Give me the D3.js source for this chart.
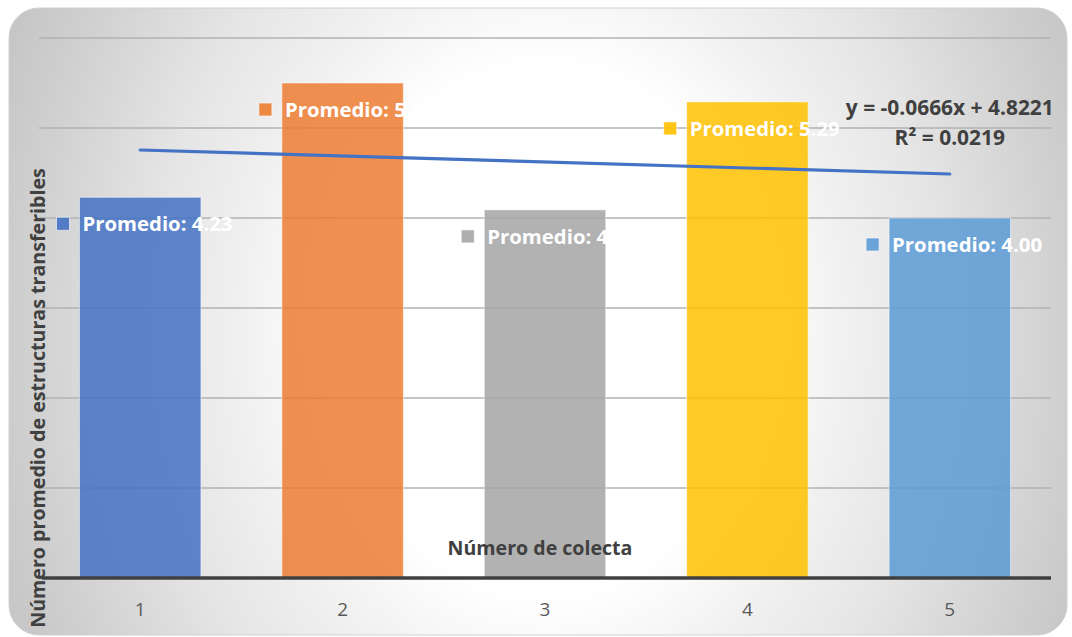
<!DOCTYPE html>
<html><head><meta charset="utf-8">
<script src="https://cdn.jsdelivr.net/npm/d3@7"></script>
<style>html,body{margin:0;padding:0;background:#fff;}svg{display:block;}</style>
</head><body>
<svg id="chart" width="1072" height="637"></svg>
<script>
const categories = ["1", "2", "3", "4", "5"];
const values = [4.23, 5.50, 4.09, 5.29, 4.00];
const labelTexts = ["Promedio: 4.23", "Promedio: 5.50", "Promedio: 4.09", "Promedio: 5.29", "Promedio: 4.00"];
const barColors = ["#4472C4", "#ED7D31", "#A5A5A5", "#FFC000", "#5B9BD5"];
const yTicks = [0, 1, 2, 3, 4, 5, 6];
const trendSlope = -0.0666;
const trendIntercept = 4.8221;
const trendLabels = ["y = -0.0666x + 4.8221", "R² = 0.0219"];
const xTitle = "Número de colecta";
const yTitle = "Número promedio de estructuras transferibles";

const svg = d3.select("#chart");
const font = "'Open Sans', Lato, sans-serif";

// scale a text's font-size so that its rendered width matches a target width
function fit(sel, target) {
  sel.each(function () {
    const fs = parseFloat(this.getAttribute("font-size"));
    const w = this.getComputedTextLength();
    if (w > 0) this.setAttribute("font-size", (fs * target / w).toFixed(2));
  });
}

const defs = svg.append("defs");
const rg = defs.append("radialGradient").attr("id", "bg")
  .attr("gradientUnits", "userSpaceOnUse")
  .attr("cx", 545).attr("cy", 330).attr("r", 588).attr("fx", 545).attr("fy", 330)
  .attr("gradientTransform", "translate(545,330) scale(1,1.25) translate(-545,-330)");
[[0, "#ffffff"], [0.36, "#ffffff"], [0.52, "#f0f0f0"], [0.66, "#e6e6e6"], [0.88, "#d0d0d0"], [1, "#c5c5c5"]]
  .forEach(([o, c]) => rg.append("stop").attr("offset", o).attr("stop-color", c));

svg.append("rect").attr("x", 9).attr("y", 8).attr("width", 1058).attr("height", 627)
  .attr("rx", 30).attr("ry", 30).attr("fill", "url(#bg)")
  .attr("stroke", "#d0d0d0").attr("stroke-width", 1);

const x = d3.scaleBand().domain(categories).range([39, 1051]).paddingInner(0.4).paddingOuter(0.2);
const y = d3.scaleLinear().domain([0, 6]).range([578, 38]);

// gridlines
svg.append("g").selectAll("line").data(yTicks.filter(t => t > 0)).join("line")
  .attr("x1", 39).attr("x2", 1051)
  .attr("y1", d => y(d)).attr("y2", d => y(d))
  .attr("stroke", "#b2b2b2").attr("stroke-width", 1.5);

// bars
svg.append("g").selectAll("rect").data(values).join("rect")
  .attr("x", (d, i) => x(categories[i]))
  .attr("y", d => y(d))
  .attr("width", x.bandwidth())
  .attr("height", d => y(0) - y(d))
  .attr("fill", (d, i) => barColors[i])
  .attr("fill-opacity", 0.85)
  .attr("stroke", "#ffffff").attr("stroke-opacity", 0.5).attr("stroke-width", 1);

// x axis
const xAxis = svg.append("g").attr("transform", `translate(0,${y(0)})`)
  .call(d3.axisBottom(x).tickSize(0).tickPadding(25));
xAxis.select(".domain").attr("stroke", "#404040").attr("stroke-width", 3.5).attr("d", "M42,0H1051");
xAxis.selectAll("text").attr("font-family", font).attr("font-size", 19).attr("fill", "#595959");

// axis titles
svg.append("text").attr("x", 540).attr("y", 555).attr("text-anchor", "middle")
  .attr("font-family", font).attr("font-weight", "bold").attr("font-size", 19).attr("fill", "#404040")
  .text(xTitle).call(fit, 185);
svg.append("text").attr("transform", "translate(45,398) rotate(-90)").attr("text-anchor", "middle")
  .attr("font-family", font).attr("font-weight", "bold").attr("font-size", 19).attr("fill", "#404040")
  .text(yTitle).call(fit, 460);

// trendline
const cx = c => x(c) + x.bandwidth() / 2;
const trendData = [1, 5].map(k => ({ c: categories[k - 1], v: trendIntercept + trendSlope * k }));
svg.append("path").datum(trendData)
  .attr("d", d3.line().x(d => cx(d.c)).y(d => y(d.v)))
  .attr("stroke", "#4472C4").attr("stroke-width", 3.2).attr("stroke-linecap", "round").attr("fill", "none");

// trend labels
const tl = svg.append("g").selectAll("text").data(trendLabels).join("text")
  .attr("x", cx(categories[4])).attr("y", (d, i) => 115 + i * 30)
  .attr("text-anchor", "middle").attr("font-family", font).attr("font-weight", "bold")
  .attr("font-size", 19).attr("fill", "#404040").text(d => d);
fit(tl.filter((d, i) => i === 0), 208);
tl.filter((d, i) => i === 1).attr("font-size", tl.filter((d, i) => i === 0).attr("font-size"));

// data labels
const lab = svg.append("g").selectAll("g").data(values).join("g")
  .attr("transform", (d, i) => `translate(${x(categories[i])},${y(d)})`);
lab.append("rect").attr("x", -23).attr("y", 20).attr("width", 13).attr("height", 13)
  .attr("fill", (d, i) => barColors[i]).attr("fill-opacity", 0.9)
  .attr("stroke", "#ffffff").attr("stroke-opacity", 0.6).attr("stroke-width", 1);
const lt = lab.append("text").attr("x", 3).attr("y", 34)
  .attr("font-family", font).attr("font-weight", "bold").attr("font-size", 19).attr("fill", "#ffffff")
  .text((d, i) => labelTexts[i]);
fit(lt, 150);
</script>
</body></html>
